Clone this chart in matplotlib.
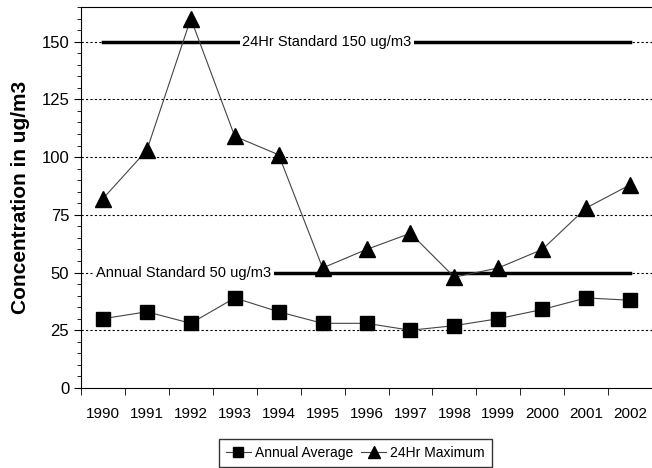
import matplotlib.pyplot as plt
import numpy as np
from matplotlib.ticker import MultipleLocator, FixedLocator

plt.rcParams['font.family'] = ['Liberation Sans', 'DejaVu Sans']

years = ['1990', '1991', '1992', '1993', '1994', '1995', '1996',
         '1997', '1998', '1999', '2000', '2001', '2002']
annual_avg = [30, 33, 28, 39, 33, 28, 28, 25, 27, 30, 34, 39, 38]
max_24hr = [82, 103, 160, 109, 101, 52, 60, 67, 48, 52, 60, 78, 88]
std_24hr = 150
std_annual = 50

x = np.arange(len(years))

fig = plt.figure(figsize=(6.52, 4.68), dpi=100)
ax = fig.add_axes([0.1242, 0.171, 0.876, 0.814])

# dotted grid
for v in range(25, 151, 25):
    ax.axhline(v, color='black', lw=0.8, ls=(0, (2, 2)), zorder=0)

# standards
ax.plot([x[0], x[-1]], [std_24hr, std_24hr], color='black', lw=2.5, zorder=1)
ax.plot([x[0], x[-1]], [std_annual, std_annual], color='black', lw=2.5, zorder=1)
ax.text(5.1, std_24hr, '24Hr Standard 150 ug/m3', ha='center', va='center',
        fontsize=10.5, bbox=dict(facecolor='white', edgecolor='none', pad=2), zorder=2)
ax.text(-0.15, std_annual, 'Annual Standard 50 ug/m3', ha='left', va='center',
        fontsize=10.5, bbox=dict(facecolor='white', edgecolor='none', pad=2), zorder=2)

ax.plot(x, annual_avg, color='#444444', lw=0.8, marker='s', ms=10,
        mfc='black', mec='black', label='Annual Average', zorder=3)
ax.plot(x, max_24hr, color='#444444', lw=0.8, marker='^', ms=11,
        mfc='black', mec='black', label='24Hr Maximum', zorder=3)

ax.set_xlim(-0.5, len(years) - 0.5)
ax.set_ylim(0, 165)
ax.set_xticks(x)
ax.set_xticklabels(years, fontsize=11)
ax.tick_params(axis='x', length=0, pad=14)
ax.xaxis.set_minor_locator(FixedLocator(np.arange(-0.5, len(years), 1)))
ax.tick_params(axis='x', which='minor', length=5, direction='out')
ax.yaxis.set_major_locator(MultipleLocator(25))
ax.yaxis.set_minor_locator(MultipleLocator(5))
ax.tick_params(axis='y', which='major', length=5, labelsize=12)
ax.tick_params(axis='y', which='minor', length=3)
ax.spines['right'].set_visible(False)

ax.set_ylabel('Concentration in ug/m3', fontsize=15, fontweight='bold', labelpad=8)

fig.legend(loc='lower center', bbox_to_anchor=(0.545, 0.002), ncol=2, fontsize=10,
           frameon=True, fancybox=False, edgecolor='black', handlelength=1.8,
           columnspacing=0.6, handletextpad=0.3, markerscale=0.75, borderpad=0.5,
           borderaxespad=0)

fig.savefig('out.png', dpi=100)
